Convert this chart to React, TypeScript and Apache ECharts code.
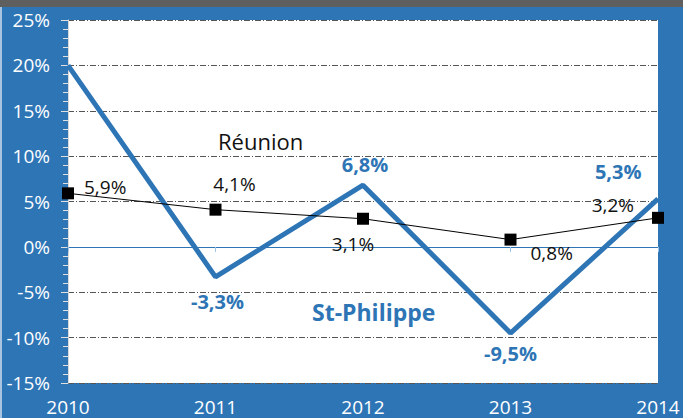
import React, { useEffect, useRef } from "react";
import * as echarts from "echarts";

const years = ["2010", "2011", "2012", "2013", "2014"];
const stPhilippe = [20, -3.3, 6.8, -9.5, 5.3];
const reunion = [5.9, 4.1, 3.1, 0.8, 3.2];
const yTicks = { min: -15, max: 25, interval: 5 };

const BLUE = "#2e75b6";
const fmt = (v: number) => `${v.toFixed(1).replace(".", ",")}%`;

export default function App() {
  const ref = useRef<HTMLDivElement>(null);
  useEffect(() => {
    const chart = echarts.init(ref.current!, null, { renderer: "svg" });
    const font = "Open Sans";
    const spLabel = [
      null,
      { position: "bottom", distance: 14, offset: [2, 0] },
      { position: "top", distance: 10, offset: [2, 0] },
      { position: "bottom", distance: 10, offset: [0, 0] },
      { position: "left", distance: 6, offset: [-10, -27] },
    ];
    const reLabel = [
      { position: "right", distance: 10, offset: [0, -6] },
      { position: "top", distance: 10, offset: [19, 0] },
      { position: "bottom", distance: 10, offset: [-10, 0] },
      { position: "right", distance: 12, offset: [2, 13] },
      { position: "left", distance: 6, offset: [-12, -13] },
    ];
    chart.setOption({
      animation: false,
      backgroundColor: BLUE,
      textStyle: { fontFamily: font },
      graphic: [
        { type: "rect", left: 0, top: 0, shape: { width: 683, height: 7 }, style: { fill: "#5f5f5f" } },
        { type: "rect", left: 0, top: 7, shape: { width: 2, height: 411 }, style: { fill: "#a9c4e0" } },
        {
          type: "text", left: 218, top: 130,
          style: { text: "Réunion", fill: "#111", font: `22px "${font}"` },
        },
        {
          type: "text", left: 312, top: 300,
          style: { text: "St-Philippe", fill: BLUE, font: `bold 23px "${font}"` },
        },
      ],
      grid: {
        left: 68, right: 25, top: 20, bottom: 35,
        show: true, backgroundColor: "#ffffff", borderWidth: 0,
      },
      xAxis: [
        {
          type: "category", data: years, boundaryGap: false,
          axisLine: { show: false, onZero: false },
          axisTick: { show: false },
          axisLabel: { color: "#ffffff", fontSize: 19, margin: 14, fontFamily: font },
          splitLine: { show: false },
        },
        {
          type: "category", data: years, boundaryGap: false, position: "bottom", z: 5,
          axisLine: { show: true, onZero: true, lineStyle: { color: BLUE, width: 1.2 } },
          axisTick: { show: true, length: 5, lineStyle: { color: "#9dc3e6" } },
          axisLabel: { show: false },
          splitLine: { show: false },
        },
      ],
      yAxis: {
        type: "value", min: yTicks.min, max: yTicks.max, interval: yTicks.interval,
        axisLine: { show: true, lineStyle: { color: "#d9d9d9", width: 1 } },
        axisTick: { show: true, length: 7, lineStyle: { color: "#e0e0e0" } },
        minorTick: { show: true, splitNumber: 5, length: 5, lineStyle: { color: "#e0e0e0" } },
        axisLabel: {
          color: "#ffffff", fontSize: 19, margin: 18, fontFamily: font,
          formatter: (v: number) => `${v}%`,
        },
        splitLine: { show: true, lineStyle: { color: "#555", type: [6, 2, 1, 2], width: 1 } },
      },
      series: [
        {
          name: "St-Philippe", type: "line", xAxisIndex: 0, z: 6,
          data: stPhilippe.map((v, i) => ({
            value: v,
            label: spLabel[i] ? { show: true, ...spLabel[i] } : { show: false },
          })),
          symbol: "circle", symbolSize: 1, showSymbol: true,
          lineStyle: { color: BLUE, width: 5 },
          itemStyle: { color: BLUE },
          label: {
            color: BLUE, fontSize: 20, fontWeight: "bold", fontFamily: font,
            formatter: (p: any) => fmt(p.value),
          },
        },
        {
          name: "Réunion", type: "line", xAxisIndex: 0, z: 7,
          data: reunion.map((v, i) => ({
            value: v,
            label: { show: true, ...reLabel[i] },
          })),
          symbol: "rect", symbolSize: 12,
          itemStyle: { color: "#000" },
          lineStyle: { color: "#000", width: 1 },
          label: { color: "#111", fontSize: 19, fontFamily: font, formatter: (p: any) => fmt(p.value) },
        },
      ],
    });
    return () => chart.dispose();
  }, []);
  return (
    <div
      ref={ref}
      style={{ position: "absolute", left: 0, top: 0, width: 683, height: 418 }}
    />
  );
}
